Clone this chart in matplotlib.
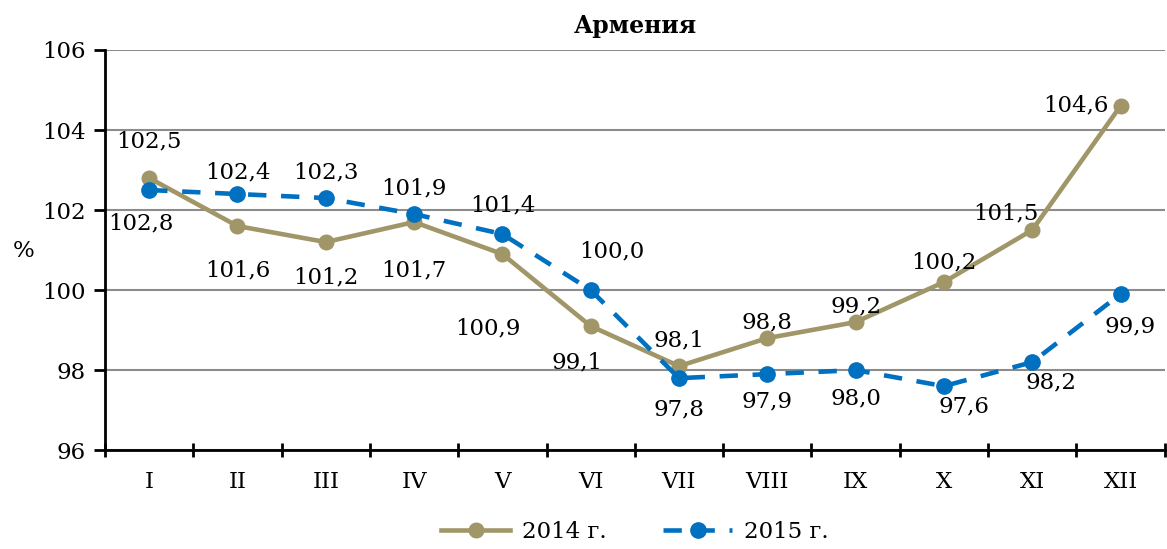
import numpy as np
import matplotlib.pyplot as plt

plt.rcParams['font.family'] = ['DejaVu Serif']

mesiace = ['I', 'II', 'III', 'IV', 'V', 'VI', 'VII', 'VIII', 'IX', 'X', 'XI', 'XII']
rok_2014 = [102.8, 101.6, 101.2, 101.7, 100.9, 99.1, 98.1, 98.8, 99.2, 100.2, 101.5, 104.6]
rok_2015 = [102.5, 102.4, 102.3, 101.9, 101.4, 100.0, 97.8, 97.9, 98.0, 97.6, 98.2, 99.9]

# przesuniecia etykiet w pikselach (dx, dy)
off_2014 = [(-8, -45), (0, -44), (0, -35), (0, -48), (-15, -74), (-14, -36),
            (0, 26), (0, 16), (0, 16), (0, 20), (-26, 17), (-45, 1)]
off_2015 = [(0, 49), (0, 22), (0, 26), (0, 26), (0, 29), (21, 39),
            (0, -31), (0, -27), (0, -28), (20, -20), (19, -20), (10, -32)]

kolor_2014 = '#A09668'
kolor_2015 = '#0070C0'
fs = 16.5

fig = plt.figure(figsize=(11.67, 5.49), dpi=100)
ax = fig.add_axes([0.09, 0.18, 0.908, 0.729])

x = np.arange(len(mesiace))
ax.plot(x, rok_2014, '-o', color=kolor_2014, lw=3.3, ms=10.5, label='2014 г.', zorder=3)
ax.plot(x, rok_2015, '--o', color=kolor_2015, lw=3.3, ms=11, dashes=(4, 3.2),
        label='2015 г.', zorder=4)

for i in range(len(mesiace)):
    ax.annotate(f'{rok_2014[i]:.1f}'.replace('.', ','), (x[i], rok_2014[i]),
                xytext=off_2014[i], textcoords='offset pixels',
                ha='center', va='center', fontsize=fs)
    ax.annotate(f'{rok_2015[i]:.1f}'.replace('.', ','), (x[i], rok_2015[i]),
                xytext=off_2015[i], textcoords='offset pixels',
                ha='center', va='center', fontsize=fs)

ax.set_xlim(-0.5, 11.5)
ax.set_ylim(96, 106)
ax.set_yticks([96, 98, 100, 102, 104, 106])
ax.set_xticks(x)
ax.set_xticklabels(mesiace, fontsize=fs)
ax.set_xticks(np.arange(-0.5, 12, 1), minor=True)
ax.tick_params(axis='x', which='major', length=0, pad=15)
ax.tick_params(axis='x', which='minor', length=10, width=2, direction='inout')
ax.tick_params(axis='y', labelsize=fs, length=8, width=2, direction='out', pad=6)
ax.yaxis.grid(True, color='#8c8c8c', lw=1.5)
ax.set_axisbelow(True)
for s in ['top', 'right']:
    ax.spines[s].set_visible(False)
for s in ['left', 'bottom']:
    ax.spines[s].set_linewidth(2)

ax.set_title('Армения', fontsize=17, fontweight='bold', pad=12)
ax.set_ylabel('%', fontsize=fs, rotation=0)
ax.yaxis.set_label_coords(-0.077, 0.47)

ax.legend(loc='upper center', bbox_to_anchor=(0.5, -0.125), ncol=2, frameon=False,
          fontsize=fs, handlelength=3.0, handletextpad=0.5, columnspacing=2.5)

plt.savefig('out.png', dpi=100)
